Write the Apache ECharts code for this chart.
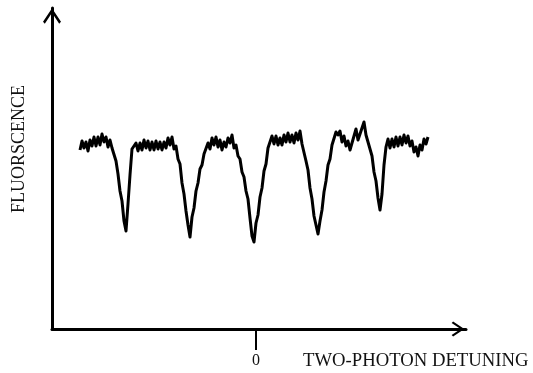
<!DOCTYPE html>
<html>
<head>
<meta charset="utf-8">
<script src="https://cdn.jsdelivr.net/npm/echarts@6/dist/echarts.min.js"></script>
<style>
html,body{margin:0;padding:0;background:#fff;}
#chart{width:533px;height:373px;}
</style>
</head>
<body>
<div id="chart"></div>
<script>
// Two-photon detuning (arbitrary units, 0 at the centre tick)
var detuning = [
-176,-174,-172,-170,-168,-166,-164,-162,-160,-158,-156,-154,-152,-150,-148,-146,-144,-142,-140,-138,
-136,-134,-132,-130,-128,-126,-124,-122,-120,-118,-116,-114,-112,-110,-108,-106,-104,-102,-100,-98,
-96,-94,-92,-90,-88,-86,-84,-82,-80,-78,-76,-74,-72,-70,-68,-66,-64,-62,-60,-58,
-56,-54,-52,-50,-48,-46,-44,-42,-40,-38,-36,-34,-32,-30,-28,-26,-24,-22,-20,-18,
-16,-14,-12,-10,-8,-6,-4,-2,0,2,4,6,8,10,12,14,16,18,20,22,
24,26,28,30,32,34,36,38,40,42,44,46,48,50,52,54,56,58,60,62,
64,66,68,70,72,74,76,78,80,82,84,86,88,90,92,94,96,98,100,102,
104,106,108,110,112,114,116,118,120,122,124,126,128,130,132,134,136,138,140,142,
144,146,148,150,152,154,156,158,160,162,164,166,168,170,172
];
// Fluorescence signal (arbitrary units)
var fluorescence = [
179,188,181,187,178,189,183,192,183,192,184,195,187,192,182,189,181,183,168,155,
138,128,108,98,125,154,180,178,186,178,186,179,189,181,188,179,187,179,188,180,
187,179,187,181,191,184,192,180,183,170,165,146,135,118,104,92,112,121,138,146,
160,164,175,174,186,180,191,184,192,182,189,179,187,182,191,186,194,181,184,173,
170,157,152,138,130,111,93,87,106,114,132,141,158,165,181,181,193,185,193,184,
191,184,194,187,196,187,194,186,196,189,198,185,184,168,159,141,130,113,104,95,
108,119,137,148,164,170,184,184,197,194,198,187,193,183,188,179,186,186,200,189,
195,194,207,194,194,180,173,157,148,131,119,135,164,182,190,181,190,182,192,183,
192,184,194,186,193,183,188,177,182,173,184,179,190,185,192
];
var zeroTick = [0];
var xName = 'TWO-PHOTON DETUNING';
var yName = 'FLUORSCENCE';

var seriesData = detuning.map(function (d, i) { return [d, fluorescence[i]]; });

// open chevron arrow head (tip at top)
var chevron = 'path://M10,0 L20,15 L18,17 L10,5 L2,17 L0,15 Z';

var chart = echarts.init(document.getElementById('chart'));
chart.setOption({
  animation: false,
  backgroundColor: '#ffffff',
  grid: { left: 52, right: 67, top: 8, bottom: 44, containLabel: false },
  xAxis: {
    type: 'value',
    min: -204,
    max: 210,
    splitLine: { show: false },
    axisLine: {
      show: true,
      onZero: false,
      lineStyle: { color: '#000', width: 3 },
      symbol: ['none', chevron],
      symbolSize: [15, 17],
      symbolOffset: [0, -8]
    },
    axisTick: {
      show: true,
      customValues: zeroTick,
      length: 21,
      lineStyle: { color: '#000', width: 2 }
    },
    axisLabel: {
      show: true,
      customValues: zeroTick,
      margin: 24,
      color: '#111',
      fontFamily: 'Liberation Serif',
      fontSize: 16
    }
  },
  yAxis: {
    type: 'value',
    min: 0,
    max: 321,
    splitLine: { show: false },
    axisLine: {
      show: true,
      onZero: false,
      lineStyle: { color: '#000', width: 3 },
      symbol: ['none', chevron],
      symbolSize: [18, 17],
      symbolOffset: [0, -8]
    },
    axisTick: { show: false },
    axisLabel: { show: false }
  },
  graphic: [
    {
      type: 'text',
      x: 19, y: 149,
      rotation: Math.PI / 2,
      style: {
        text: yName,
        fill: '#111',
        font: '18px "Liberation Serif"',
        align: 'center',
        verticalAlign: 'middle'
      }
    },
    {
      type: 'text',
      x: 303, y: 361,
      style: {
        text: xName,
        fill: '#111',
        font: '18.7px "Liberation Serif"',
        align: 'left',
        verticalAlign: 'middle'
      }
    }
  ],
  series: [{
    type: 'line',
    data: seriesData,
    showSymbol: false,
    symbol: 'none',
    sampling: 'none',
    lineStyle: { color: '#000', width: 3, join: 'round' },
    z: 3
  }]
});
</script>
</body>
</html>
